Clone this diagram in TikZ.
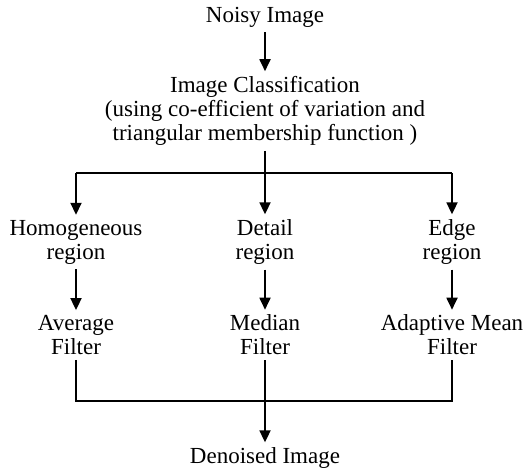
\documentclass[tikz,border=0pt]{standalone}
\usepackage{fontspec}
\setmainfont{Liberation Serif}
\usetikzlibrary{arrows.meta}

\begin{document}
\begin{tikzpicture}[x=1pt,y=-1pt,
        txt/.style={align=center,inner sep=5pt,font=\fontsize{23}{24}\selectfont},
        arr/.style={-{Triangle[width=11pt,length=12pt]},line width=1.8pt},
        ln/.style={line width=1.8pt}]
        \useasboundingbox (0,0) rectangle (529,470);
        \node[txt] (noisy) at (265,17) {Noisy Image};
        \node[txt] (class) at (265,111) {Image Classification\\(using co-efficient of variation and\\triangular membership function )};
        \node[txt] (homog) at (76,242) {Homogeneous\\region};
        \node[txt] (detail) at (265,242) {Detail\\region};
        \node[txt] (edge) at (452,242) {Edge\\region};
        \node[txt] (avg) at (76,335) {Average\\Filter};
        \node[txt] (med) at (265,335) {Median\\Filter};
        \node[txt] (ada) at (452,335) {Adaptive Mean\\Filter};
        \node[txt] (out) at (265,458) {Denoised Image};
        % branch and merge points
        \coordinate (split) at (265,173);
        \coordinate (splitL) at (76,173);
        \coordinate (splitR) at (452,173);
        \coordinate (join) at (265,401);
        \coordinate (joinL) at (76,401);
        \coordinate (joinR) at (452,401);
        \draw[arr] (noisy) -- (class);
        \draw[ln] (class) -- (split);
        \draw[ln] (splitL) -- (splitR);
        \draw[arr] (splitL) -- (homog);
        \draw[arr] (split) -- (detail);
        \draw[arr] (splitR) -- (edge);
        \draw[arr] (homog) -- (avg);
        \draw[arr] (detail) -- (med);
        \draw[arr] (edge) -- (ada);
        \draw[ln] (avg) -- (joinL) -- (joinR) -- (ada);
        \draw[ln] (med) -- (join);
        \draw[arr] (join) -- (out);
\end{tikzpicture}
\end{document}
